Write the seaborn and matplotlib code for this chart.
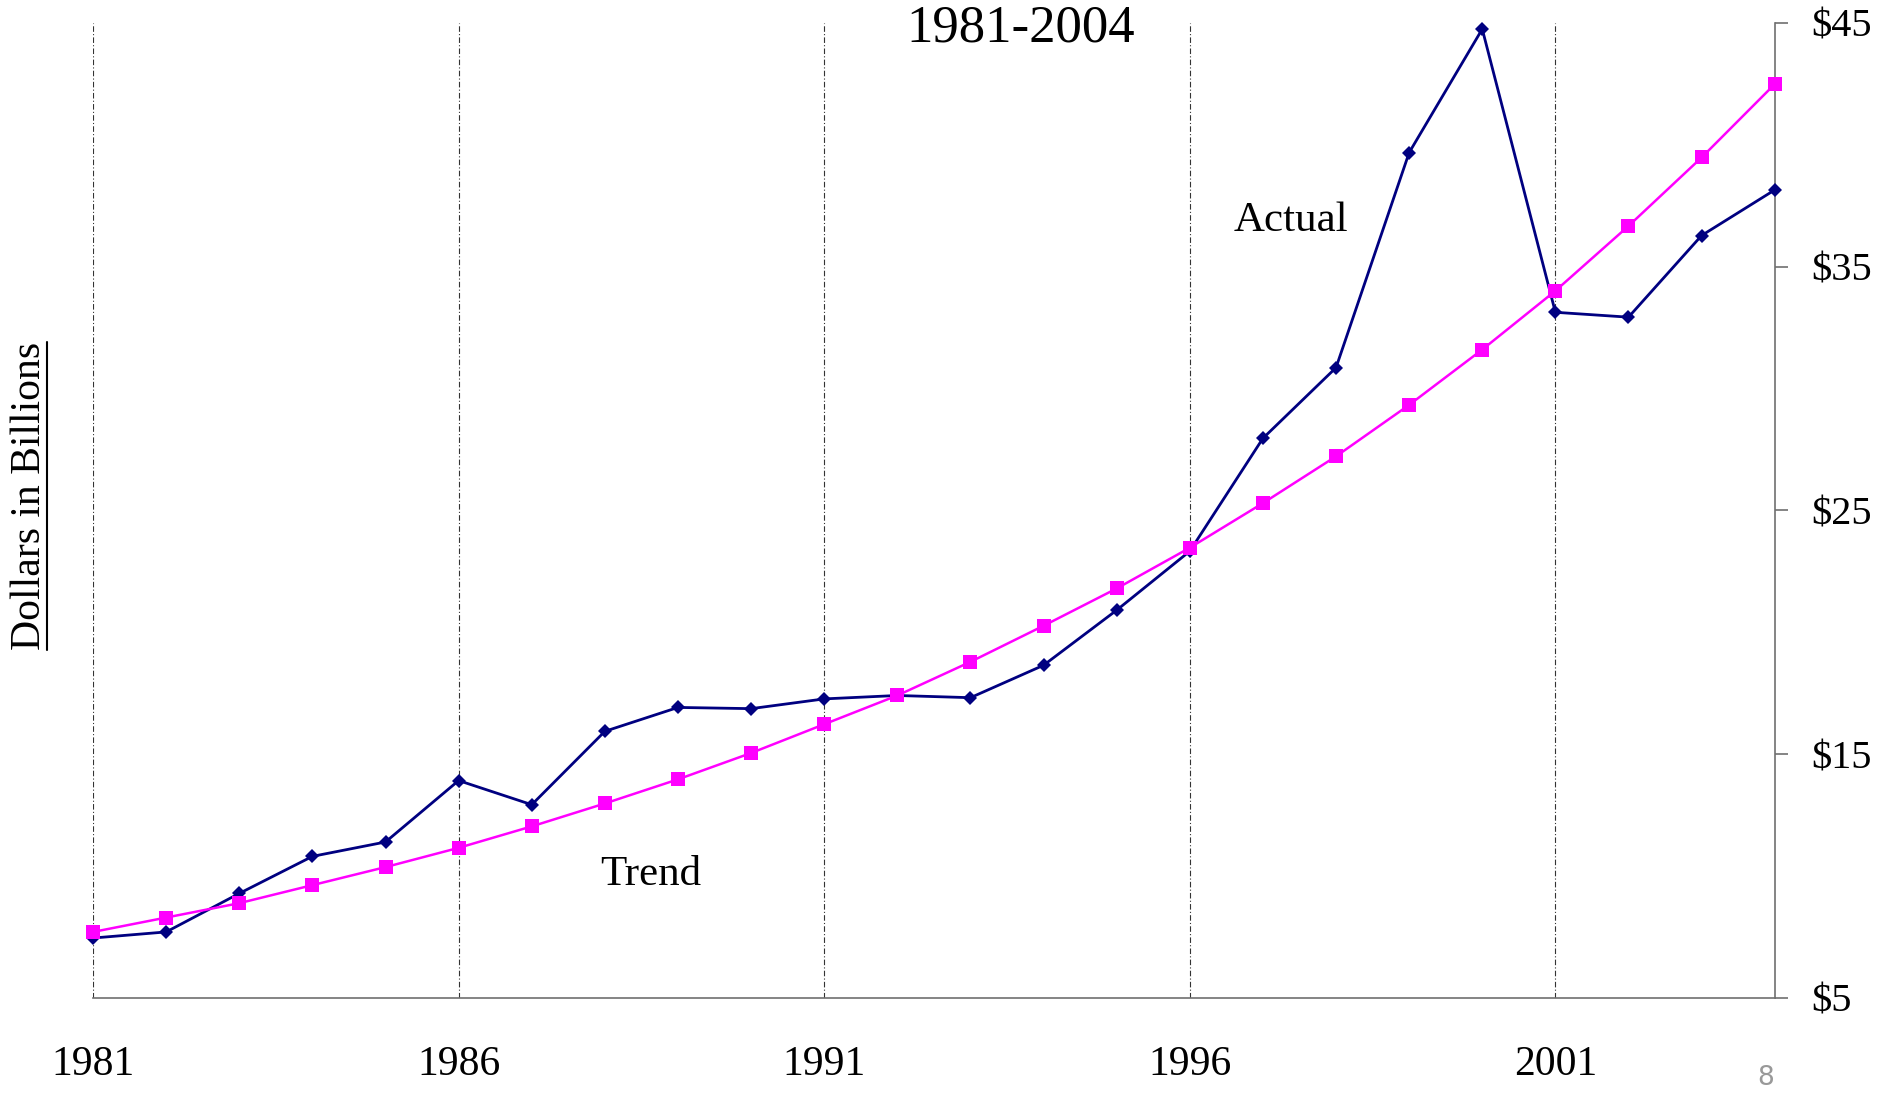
import pandas as pd
import numpy as np
import matplotlib
matplotlib.use("Agg")
import matplotlib.pyplot as plt
import seaborn as sns
from matplotlib.lines import Line2D

# values (dollars in billions)
years = list(range(1981, 2005))
actual = [7.46, 7.71, 9.29, 10.81, 11.40, 13.92, 12.93, 15.94, 16.92, 16.87,
          17.27, 17.41, 17.32, 18.65, 20.91, 23.33, 27.96, 30.86, 39.68, 44.75,
          33.13, 32.93, 36.28, 38.15]
trend = [7.71, 8.30, 8.89, 9.63, 10.37, 11.16, 12.04, 12.98, 13.97, 15.05,
         16.23, 17.41, 18.79, 20.27, 21.80, 23.47, 25.30, 27.22, 29.33, 31.60,
         34.01, 36.67, 39.48, 42.49]
x_ticks = [1981, 1986, 1991, 1996, 2001]
y_ticks = [5, 15, 25, 35, 45]
y_labels = [r"\$5", r"\$15", r"\$25", r"\$35", r"\$45"]

sns.set_style("white")
plt.rcParams["font.family"] = ["Liberation Serif", "DejaVu Serif"]
plt.rcParams["text.color"] = "black"
plt.rcParams["xtick.labelcolor"] = "black"
plt.rcParams["ytick.labelcolor"] = "black"

df = pd.DataFrame({"year": years, "actual": actual, "trend": trend})

fig = plt.figure(figsize=(18.8, 11.03), dpi=100)
ax = fig.add_axes([0.0495, 0.0952, 0.8945, 0.884])

sns.lineplot(data=df, x="year", y="actual", ax=ax, color="#000080", lw=2,
             marker="D", markersize=7.5, markeredgewidth=0, clip_on=False, zorder=3)
sns.lineplot(data=df, x="year", y="trend", ax=ax, color="#FF00FF", lw=1.8,
             marker="s", markersize=10, markeredgewidth=0, clip_on=False, zorder=4)

ax.set_xlim(1981, 2004)
ax.set_ylim(5, 45)
ax.set_xlabel("")
ax.set_ylabel("")

# vertical dash-dot grid at the labelled years
for yr in x_ticks:
    ax.axvline(yr, color="#333333", lw=0.8, ls=(0, (5, 2, 1, 2)), zorder=1)

for s in ["top", "left"]:
    ax.spines[s].set_visible(False)
for s in ["bottom", "right"]:
    ax.spines[s].set_color("#707070")
    ax.spines[s].set_linewidth(1.2)

ax.yaxis.tick_right()
ax.set_yticks(y_ticks)
ax.set_yticklabels(y_labels)
ax.set_xticks(x_ticks)
ax.set_xticklabels([str(y) for y in x_ticks])
ax.tick_params(axis="x", direction="out", length=10, width=1.2, color="#707070",
               pad=24, labelsize=30)
ax.tick_params(axis="y", direction="out", length=9, width=1.2, color="#707070",
               pad=17, labelsize=29, right=True, left=False)

ax.text(1997.38, 36.9, "Actual", fontsize=31, ha="center", va="center")
ax.text(1988.63, 10.05, "Trend", fontsize=31, ha="center", va="center")

fig.text(0.543, 0.974, "1981-2004", fontsize=38, ha="center", va="center")
ylab = fig.text(0.016, 0.55, "Dollars in Billions", fontsize=30,
                rotation=90, ha="center", va="center")
fig.text(0.939, 0.011, "8", fontsize=19, color="#999999", family="DejaVu Sans",
         ha="center", va="bottom")

# underline for the rotated label (sits on the baseline side, i.e. to the right)
fig.canvas.draw()
bb = ylab.get_window_extent().transformed(fig.transFigure.inverted())
fig.add_artist(Line2D([bb.x1 - 0.0012, bb.x1 - 0.0012], [bb.y0, bb.y1],
                      transform=fig.transFigure, color="black", lw=1.5))

fig.savefig("out.png", dpi=100)
